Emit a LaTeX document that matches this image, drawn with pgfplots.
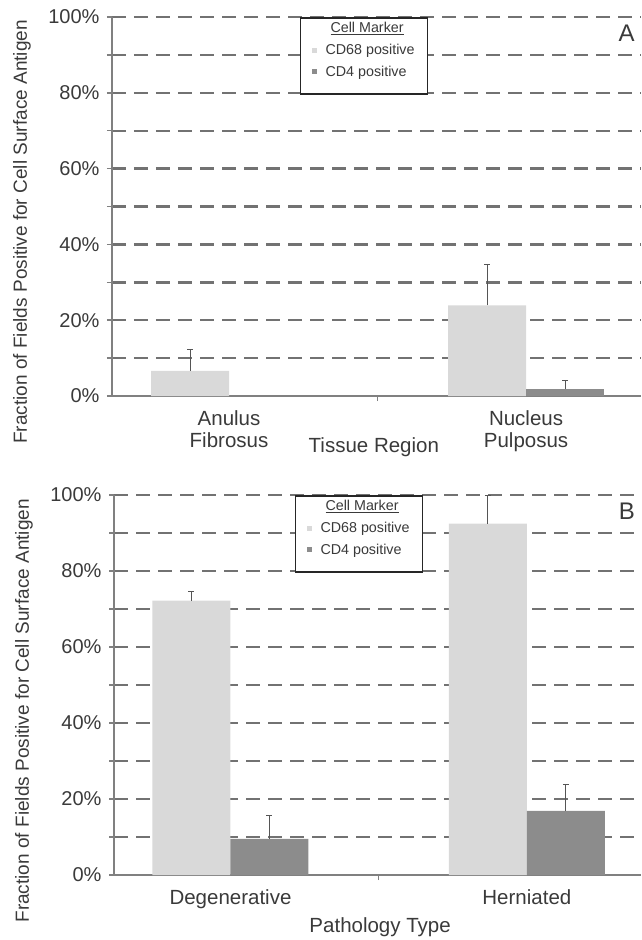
\documentclass[border=0pt]{standalone}
\usepackage{pgfplots}
\pgfplotsset{compat=1.18}
\usepackage{fontspec}
\setmainfont{Liberation Sans}
\definecolor{cdlight}{HTML}{D9D9D9}
\definecolor{cddark}{HTML}{8C8C8C}
\definecolor{axgray}{HTML}{808080}
\definecolor{gridgray}{HTML}{727272}
\definecolor{txt}{HTML}{3A3A3A}
\definecolor{errc}{HTML}{555555}
\pgfplotsset{
  panel/.style={
    scale only axis, height=379pt,
    ymin=0, ymax=100,
    axis x line=bottom, axis y line=left,
    axis line style={axgray, line width=1.5pt, -},
    ytick={0,20,...,100}, yticklabels={0\%,20\%,40\%,60\%,80\%,100\%},
    minor ytick={10,30,50,70,90},
    ymajorgrids, yminorgrids,
    major grid style={gridgray, line width=2.4pt, dash pattern=on 14pt off 8pt},
    minor grid style={gridgray, line width=2.4pt, dash pattern=on 14pt off 8pt},
    tick align=outside, major tick length=5pt, minor tick length=5pt,
    tick style={axgray, line width=1.5pt},
    xtick={0.5}, xticklabels={},
    extra x ticks={0,1},
    extra x tick style={major tick length=0pt, grid=none,
      xticklabel style={align=center, font=\fontsize{20.5}{22}\selectfont, text=txt, yshift=-11pt}},
    yticklabel style={font=\fontsize{20}{22}\selectfont, text=txt, xshift=-4pt},
    ylabel style={font=\fontsize{19}{22}\selectfont, text=txt, anchor=center},
    xlabel style={font=\fontsize{20.5}{22}\selectfont, text=txt, anchor=center},
    ybar=0pt, bar width=78pt,
    legend cell align=left,
    legend style={anchor=north west, draw=black!85, line width=1.5pt, fill=white,
      font=\fontsize{14.3}{17}\selectfont, text=txt, inner xsep=11pt, inner ysep=2.5pt,
      row sep=6pt, /tikz/every odd column/.append style={column sep=7pt}},
  },
  bara/.style={fill=cdlight, draw=none,
    legend image code/.code={\fill[cdlight] (0pt,-2.5pt) rectangle (5pt,2.5pt);},
    error bars/.cd, y dir=plus, y explicit,
    error bar style={draw=errc, line width=1pt},
    error mark options={rotate=90, draw=errc, mark size=3pt, line width=1pt}},
  barb/.style={fill=cddark, draw=none,
    legend image code/.code={\fill[cddark] (0pt,-2.5pt) rectangle (5pt,2.5pt);},
    error bars/.cd, y dir=plus, y explicit,
    error bar style={draw=errc, line width=1pt},
    error mark options={rotate=90, draw=errc, mark size=3pt, line width=1pt}},
}
\begin{document}
\begin{tikzpicture}
\useasboundingbox (0,0) rectangle (641pt,-940pt);
% Panel A
\begin{axis}[panel, at={(112pt,-396pt)}, anchor=south west, width=529pt,
  xmin=-0.394, xmax=1.387,
  extra x tick labels={Anulus\\Fibrosus, Nucleus\\Pulposus},
  xlabel={Tissue Region},
  xlabel style={at={(axis description cs:0.495,-0.1346)}},
  ylabel={Fraction of Fields Positive for Cell Surface Antigen},
  ylabel style={at={(axis description cs:-0.170,0.433)}},
  legend style={at={(rel axis cs:0.355,1)}},
]
\addlegendimage{empty legend}\addlegendentry{\hspace{5pt}\underline{Cell Marker}}
\addplot[bara] coordinates {(0,6.6) +- (0,5.8) (1,23.9) +- (0,10.7)};
\addlegendentry{CD68 positive\hspace{12pt}}
\addplot[barb] coordinates {(1,1.8) +- (0,2.2)};
\addlegendentry{CD4 positive}
\addlegendimage{empty legend}\addlegendentry{}
\node[font=\fontsize{24}{24}\selectfont, text=txt] at (rel axis cs:0.973,0.958) {A};
\end{axis}
% Panel B
\begin{axis}[panel, at={(114pt,-875pt)}, anchor=south west, width=527pt, height=380pt,
  xmin=-0.393, xmax=1.385,
  extra x tick labels={Degenerative, Herniated},
  xlabel={Pathology Type},
  xlabel style={at={(axis description cs:0.505,-0.137)}},
  ylabel={Fraction of Fields Positive for Cell Surface Antigen},
  ylabel style={at={(axis description cs:-0.171,0.432)}},
  legend style={at={(rel axis cs:0.343,1)}},
]
\addlegendimage{empty legend}\addlegendentry{\hspace{5pt}\underline{Cell Marker}}
\addplot[bara] coordinates {(0,72.2) +- (0,2.4) (1,92.5) +- (0,7.5)};
\addlegendentry{CD68 positive\hspace{12pt}}
\addplot[barb] coordinates {(0,9.5) +- (0,6.1) (1,16.9) +- (0,6.8)};
\addlegendentry{CD4 positive}
\addlegendimage{empty legend}\addlegendentry{}
\node[font=\fontsize{24}{24}\selectfont, text=txt] at (rel axis cs:0.973,0.958) {B};
\end{axis}
\end{tikzpicture}
\end{document}
